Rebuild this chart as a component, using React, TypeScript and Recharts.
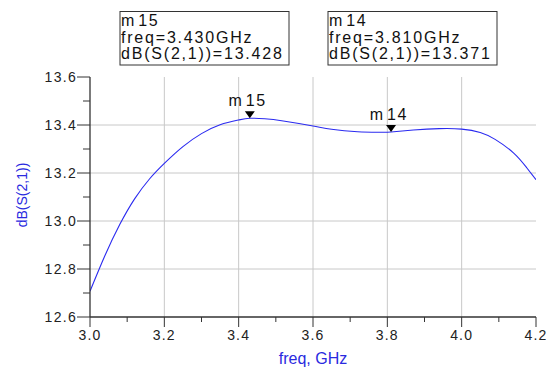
import React from 'react';
import {
    LineChart,
    Line,
    XAxis,
    YAxis,
    ReferenceLine,
    ReferenceDot
} from 'recharts';

// trace
const freqGHz = [3.0, 3.04, 3.08, 3.12, 3.16, 3.2, 3.25, 3.3, 3.35, 3.4, 3.43, 3.47, 3.52, 3.6, 3.65, 3.72, 3.78, 3.81, 3.87, 3.94, 4.0, 4.05, 4.09, 4.14, 4.175, 4.2];
const s21dB = [12.707, 12.855, 12.985, 13.092, 13.175, 13.24, 13.31, 13.364, 13.401, 13.421, 13.428, 13.426, 13.417, 13.396, 13.382, 13.372, 13.37, 13.371, 13.379, 13.385, 13.383, 13.369, 13.34, 13.283, 13.222, 13.172];

const xTicks = [3.0, 3.1, 3.2, 3.3, 3.4, 3.5, 3.6, 3.7, 3.8, 3.9, 4.0, 4.1, 4.2];
const yTicks = [12.6, 12.7, 12.8, 12.9, 13.0, 13.1, 13.2, 13.3, 13.4, 13.5, 13.6];
const xGrid = [3.2, 3.4, 3.6, 3.8, 4.0];
const yGrid = [12.8, 13.0, 13.2, 13.4];

const markerNames = ['m15', 'm14'];
const markerFreqs = [3.43, 3.81];
const markerValues = [13.428, 13.371];

const data = freqGHz.map((f, i) => ({ freq: f, db: s21dB[i] }));

const font = '"Liberation Sans", Arial, sans-serif';
const isMajor = (v: number) => Math.round(v * 10) % 2 === 0;

const XTick = (props: any) => {
    const { x, y, payload } = props;
    const major = isMajor(payload.value);
    return (
        <g>
            <line x1={x} x2={x} y1={y} y2={y + (major ? 10 : 5)} stroke="#333" strokeWidth={1} />
            {major && (
                <text x={x} y={y + 23} textAnchor="middle" fontSize={14} letterSpacing={1.2} fill="#222" fontFamily={font}>
                    {payload.value.toFixed(1)}
                </text>
            )}
        </g>
    );
};

const YTick = (props: any) => {
    const { x, y, payload } = props;
    const major = isMajor(payload.value);
    return (
        <g>
            <line x1={x - (major ? 13 : 7)} x2={x} y1={y} y2={y} stroke="#333" strokeWidth={1} />
            {major && (
                <text x={x - 13} y={y + 5} textAnchor="end" fontSize={14} letterSpacing={1.3} fill="#222" fontFamily={font}>
                    {payload.value.toFixed(1)}
                </text>
            )}
        </g>
    );
};

const MarkerShape = (name: string) => (props: any) => {
    const { cx, cy } = props;
    return (
        <g>
            <path d={`M${cx - 5},${cy - 7} L${cx + 5},${cy - 7} L${cx},${cy} Z`} fill="#000" />
            <text x={cx - 2} y={cy - 12} textAnchor="middle" fontSize={16} letterSpacing={1.8} fill="#111" fontFamily={font}>
                <tspan>m</tspan><tspan dx={2}>{name.slice(1)}</tspan>
            </text>
        </g>
    );
};

const MarkerBox = ({ left, name, f, v }: { left: number; name: string; f: number; v: number }) => (
    <g fontFamily={font} fontSize={16} letterSpacing={1.8} fill="#111">
        <rect x={left} y={11.5} width={169} height={53.5} fill="#fff" stroke="#333" strokeWidth={1} />
        <text x={left + 1} y={26}>
            <tspan>m</tspan><tspan dx={2}>{name.slice(1)}</tspan>
        </text>
        <text x={left + 1} y={43}>{`freq=${f.toFixed(3)}GHz`}</text>
        <text x={left + 1} y={59}>{`dB(S(2,1))=${v.toFixed(3)}`}</text>
    </g>
);

export default function App() {
    return (
        <div style={{ position: 'absolute', left: 0, top: 0, width: 548, height: 367, background: '#fff' }}>
            <LineChart width={548} height={367} data={data} margin={{ top: 77, right: 12, bottom: 0, left: 0 }}>
                <XAxis
                    dataKey="freq"
                    type="number"
                    domain={[3.0, 4.2]}
                    ticks={xTicks}
                    interval={0}
                    height={50}
                    tickSize={0}
                    tickMargin={0}
                    tick={<XTick />}
                    axisLine={{ stroke: '#333', strokeWidth: 1.3 }}
                    allowDataOverflow
                />
                <XAxis xAxisId="top" orientation="top" type="number" domain={[3.0, 4.2]} height={0} tick={false} tickLine={false} axisLine={{ stroke: '#333', strokeWidth: 1.3 }} />
                <YAxis
                    type="number"
                    domain={[12.6, 13.6]}
                    ticks={yTicks}
                    interval={0}
                    width={90}
                    tickSize={0}
                    tickMargin={0}
                    tick={<YTick />}
                    axisLine={{ stroke: '#333', strokeWidth: 1.3 }}
                    allowDataOverflow
                />
                <YAxis yAxisId="right" orientation="right" type="number" domain={[12.6, 13.6]} width={0} tick={false} tickLine={false} axisLine={{ stroke: '#333', strokeWidth: 1.3 }} />
                {xGrid.map((g) => (
                    <ReferenceLine key={`vx${g}`} x={g} stroke="#c8c8c8" strokeWidth={1} />
                ))}
                {yGrid.map((g) => (
                    <ReferenceLine key={`hy${g}`} y={g} stroke="#c8c8c8" strokeWidth={1} />
                ))}
                <Line type="natural" dataKey="db" stroke="#2a2af0" strokeWidth={1.1} dot={false} isAnimationActive={false} />
                {markerNames.map((n, i) => (
                    <ReferenceDot key={n} x={markerFreqs[i]} y={markerValues[i]} shape={MarkerShape(n)} />
                ))}
            </LineChart>
            <svg width={548} height={367} style={{ position: 'absolute', left: 0, top: 0, pointerEvents: 'none' }}>
                <MarkerBox left={120} name={markerNames[0]} f={markerFreqs[0]} v={markerValues[0]} />
                <MarkerBox left={328} name={markerNames[1]} f={markerFreqs[1]} v={markerValues[1]} />
                <text x={22} y={195} transform="rotate(-90 22 195)" textAnchor="middle" dominantBaseline="central" fontSize={14} fill="#2a2ae0" fontFamily={font}>
                    dB(S(2,1))
                </text>
                <text x={313} y={364} textAnchor="middle" fontSize={16} fill="#2a2ae0" fontFamily={font}>
                    freq, GHz
                </text>
            </svg>
        </div>
    );
}
